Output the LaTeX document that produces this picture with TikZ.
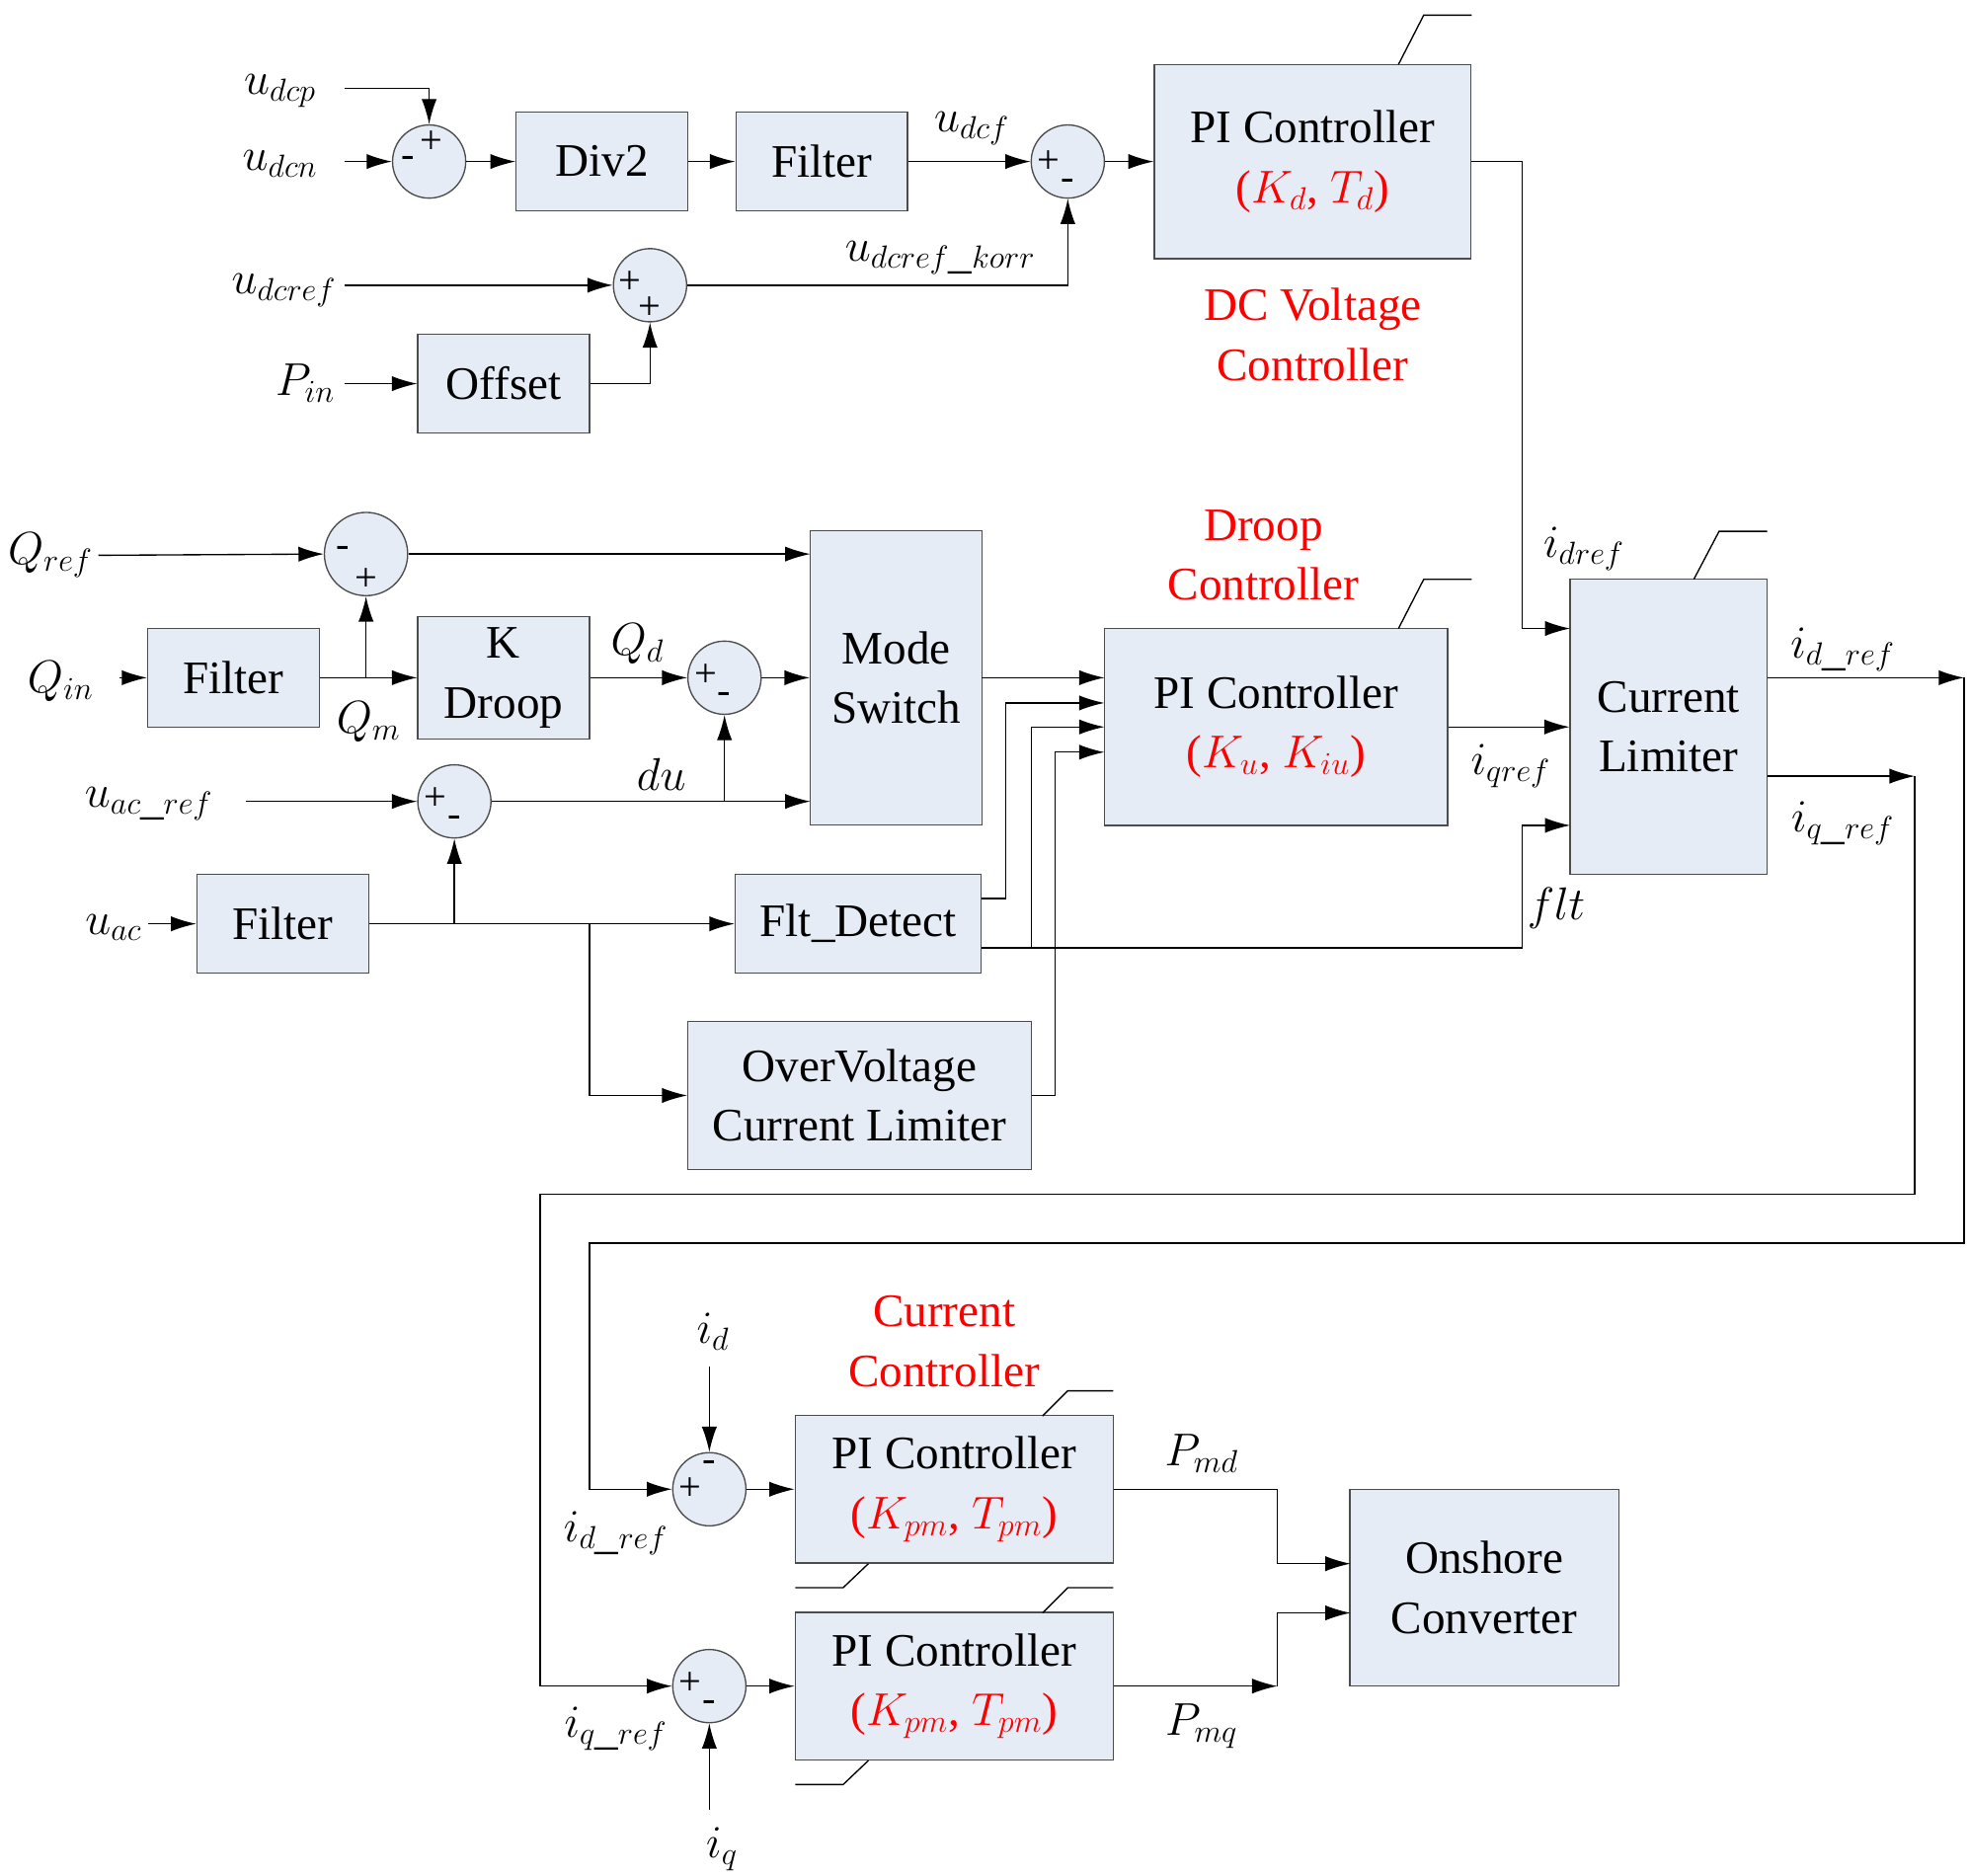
\documentclass[tikz,border=0pt]{standalone}
\usepackage{fontspec}
\setmainfont{Liberation Serif}
\usetikzlibrary{positioning, arrows.meta, calc}
\definecolor{boxfill}{RGB}{230,236,246}
\definecolor{ctrlred}{RGB}{255,0,0}
\tikzstyle{arrow} = [-{Latex[length=4mm,width=2.4mm]}]
\begin{document}
\begin{tikzpicture}[
        x=0.02cm, y=-0.02cm,
        line width=0.6pt,
        every node/.style={font=\fontsize{21}{27}\selectfont},
        block/.style={rectangle, draw=black!70, fill=boxfill, align=center, inner sep=0pt},
        sum/.style={circle, draw=black!70, fill=boxfill, minimum size=1.16cm, inner sep=0pt},
        sig/.style={font=\fontsize{18}{18}\selectfont, inner sep=0pt},
        lbl/.style={font=\fontsize{21}{22}\selectfont, inner sep=0pt},
        red/.style={text=ctrlred, align=center}
    ]
    \useasboundingbox (0,0) rectangle (1560,1486);

    % DC voltage part
    \node (sdc)  [sum] at (340,128) {};
    \node (div)  [block, minimum width=2.72cm, minimum height=1.56cm] at (477,128) {Div2};
    \node (fdc)  [block, minimum width=2.72cm, minimum height=1.56cm] at (651,128) {Filter};
    \node (sdf)  [sum] at (846,128) {};
    \node (pidc) [block, minimum width=5.02cm, minimum height=3.08cm] at (1040,128) {PI Controller\\\textcolor{ctrlred}{($K_d$, $T_d$)}};
    \node (sref) [sum] at (515,226) {};
    \node (off)  [block, minimum width=2.72cm, minimum height=1.56cm] at (399,304) {Offset};
    \node [red] at (1040,265) {DC Voltage\\Controller};

    \node (udcp)  [lbl] at (222,72)  {$u_{dcp}$};
    \node (udcn)  [lbl] at (222,130) {$u_{dcn}$};
    \node (udcref)[lbl] at (225,230) {$u_{dcref}$};
    \node (pin)   [lbl] at (242,304) {$P_{in}$};
    \node [lbl] at (770,102) {$u_{dcf}$};
    \node [lbl] at (745,204) {$u_{dcref\_korr}$};

    \node [sig] at ($(sdc)+(-17,0)$) {-};   \node [sig] at ($(sdc)+(2,-15)$) {+};
    \node [sig] at ($(sdf)+(-15,0)$) {+};   \node [sig] at ($(sdf)+(0,18)$) {-};
    \node [sig] at ($(sref)+(-16,-2)$) {+}; \node [sig] at ($(sref)+(0,18)$) {+};

    \coordinate (pdcp) at (273,70);
    \coordinate (pdcn) at (273,128);
    \coordinate (pref) at (273,226);
    \coordinate (ppin) at (273,304);
    \draw [arrow] (pdcp) -| (sdc.north);
    \draw [arrow] (pdcn) -- (sdc.west);
    \draw [arrow] (sdc) -- (div);
    \draw [arrow] (div) -- (fdc);
    \draw [arrow] (fdc) -- (sdf.west);
    \draw [arrow] (sdf) -- (pidc);
    \draw [arrow] (pref) -- (sref.west);
    \draw [arrow] (ppin) -- (off);
    \draw [arrow] (off.east) -| (sref.south);
    \draw [arrow] (sref.east) -| (sdf.south);
    \draw (1108,51) -- (1128,12) -- (1166,12);

    % Droop part
    \node (sq)   [sum, minimum size=1.32cm] at (290,439) {};
    \node (fq)   [block, minimum width=2.72cm, minimum height=1.56cm] at (185,537) {Filter};
    \node (kd)   [block, minimum width=2.72cm, minimum height=1.94cm] at (399,537) {K\\Droop};
    \node (sqd)  [sum] at (574,537) {};
    \node (mode) [block, minimum width=2.72cm, minimum height=4.66cm] at (710,537) {Mode\\Switch};
    \node (sdu)  [sum] at (360,635) {};
    \node (fac)  [block, minimum width=2.72cm, minimum height=1.56cm] at (224,732) {Filter};
    \node (flt)  [block, minimum width=3.9cm, minimum height=1.56cm] at (680,732) {Flt\_Detect};
    \node (ovl)  [block, minimum width=5.44cm, minimum height=2.34cm] at (681,868) {OverVoltage\\Current Limiter};
    \node (pidr) [block, minimum width=5.44cm, minimum height=3.12cm] at (1011,576) {PI Controller\\\textcolor{ctrlred}{($K_u$, $K_{iu}$)}};
    \node (clim) [block, minimum width=3.12cm, minimum height=4.68cm] at (1322,576) {Current\\Limiter};
    \node [red] at (1001,440) {Droop\\Controller};

    \node (qref) [lbl] at (40,440)  {$Q_{ref}$};
    \node (qin)  [lbl] at (48,540)  {$Q_{in}$};
    \node [lbl] at (292,572) {$Q_m$};
    \node [lbl] at (505,510) {$Q_d$};
    \node (uacr) [lbl] at (118,637) {$u_{ac\_ref}$};
    \node [lbl] at (524,614) {$du$};
    \node (uac)  [lbl] at (90,735)  {$u_{ac}$};
    \node [lbl] at (1255,435) {$i_{dref}$};
    \node [lbl] at (1197,607) {$i_{qref}$};
    \node [lbl] at (1233,720) {$flt$};
    \node [lbl] at (1460,515) {$i_{d\_ref}$};
    \node [lbl] at (1460,652) {$i_{q\_ref}$};

    \node [sig] at ($(sq)+(-18,-2)$) {-};  \node [sig] at ($(sq)+(0,20)$) {+};
    \node [sig] at ($(sqd)+(-15,-2)$) {+}; \node [sig] at ($(sqd)+(0,16)$) {-};
    \node [sig] at ($(sdu)+(-15,-2)$) {+}; \node [sig] at ($(sdu)+(0,16)$) {-};

    \coordinate (pqref) at (78,440);
    \coordinate (pqin)  at (95,537);
    \coordinate (puacr) at (195,635);
    \coordinate (puac)  at (117,732);
    \draw [arrow] (pqref) -- (sq.west);
    \draw [arrow] (sq.east) -- (642,439);
    \draw [arrow] (pqin) -- (fq);
    \draw [arrow] (fq) -- (kd);
    \draw [arrow] (290,537) -- (sq.south);
    \draw [arrow] (kd) -- (sqd.west);
    \draw [arrow] (sqd.east) -- (mode.west |- sqd);
    \draw [arrow] (puacr) -- (sdu.west);
    \draw [arrow] (sdu.east) -- (642,635);
    \draw [arrow] (574,635) -- (sqd.south);
    \draw [arrow] (puac) -- (fac);
    \draw [arrow] (fac) -- (flt);
    \draw [arrow] (360,732) -- (sdu.south);
    \draw [arrow] (467,732) |- (ovl.west);
    \draw [arrow] (778,537) -- (875,537);
    \draw [arrow] (778,712) -- (797,712) |- (875,557);
    \draw [arrow] (817,751) |- (875,576);
    \draw [arrow] (ovl.east) -- (836,868) |- (875,596);
    \draw [arrow] (778,751) -- (1206,751) |- (1244,654);
    \draw [arrow] (pidc.east) -- (1206,128) |- (1244,498);
    \draw [arrow] (pidr.east) -- (clim.west);
    \draw (1108,498) -- (1128,459) -- (1166,459);
    \draw (1342,459) -- (1362,421) -- (1400,421);

    % Current controller part
    \node (sid)  [sum] at (562,1180) {};
    \node (siq)  [sum] at (562,1336) {};
    \node (pid)  [block, minimum width=5.04cm, minimum height=2.34cm] at (756,1180) {PI Controller\\\textcolor{ctrlred}{($K_{pm}$, $T_{pm}$)}};
    \node (piq)  [block, minimum width=5.04cm, minimum height=2.34cm] at (756,1336) {PI Controller\\\textcolor{ctrlred}{($K_{pm}$, $T_{pm}$)}};
    \node (conv) [block, minimum width=4.26cm, minimum height=3.12cm] at (1176,1258) {Onshore\\Converter};
    \node [red] at (748,1063) {Current\\Controller};

    \node (id) [lbl] at (565,1055) {$i_d$};
    \node (iq) [lbl] at (572,1465) {$i_q$};
    \node [lbl] at (488,1215) {$i_{d\_ref}$};
    \node [lbl] at (488,1370) {$i_{q\_ref}$};
    \node [lbl] at (952,1152) {$P_{md}$};
    \node [lbl] at (952,1368) {$P_{mq}$};

    \node [sig] at ($(sid)+(0,-18)$) {-};  \node [sig] at ($(sid)+(-15,0)$) {+};
    \node [sig] at ($(siq)+(-15,-2)$) {+}; \node [sig] at ($(siq)+(0,16)$) {-};

    \coordinate (pid0) at (562,1083);
    \coordinate (piq0) at (562,1434);
    \draw [arrow] (1400,537) -- (1556,537);
    \draw [arrow] (1556,537) -- (1556,985) -- (467,985) |- (sid.west);
    \draw [arrow] (1400,615) -- (1517,615);
    \draw [arrow] (1517,615) -- (1517,946) -- (428,946) |- (siq.west);
    \draw [arrow] (pid0) -- (sid.north);
    \draw [arrow] (piq0) -- (siq.south);
    \draw [arrow] (sid) -- (pid);
    \draw [arrow] (siq) -- (piq);
    \draw [arrow] (pid.east) -- (1012,1180) |- (1070,1239);
    \draw [arrow] (piq.east) -- (1012,1336);
    \draw [arrow] (1012,1336) |- (1070,1278);
    \draw (826,1122) -- (846,1102) -- (882,1102);
    \draw (688,1239) -- (668,1258) -- (630,1258);
    \draw (826,1278) -- (846,1258) -- (882,1258);
    \draw (688,1395) -- (668,1414) -- (630,1414);
\end{tikzpicture}
\end{document}
